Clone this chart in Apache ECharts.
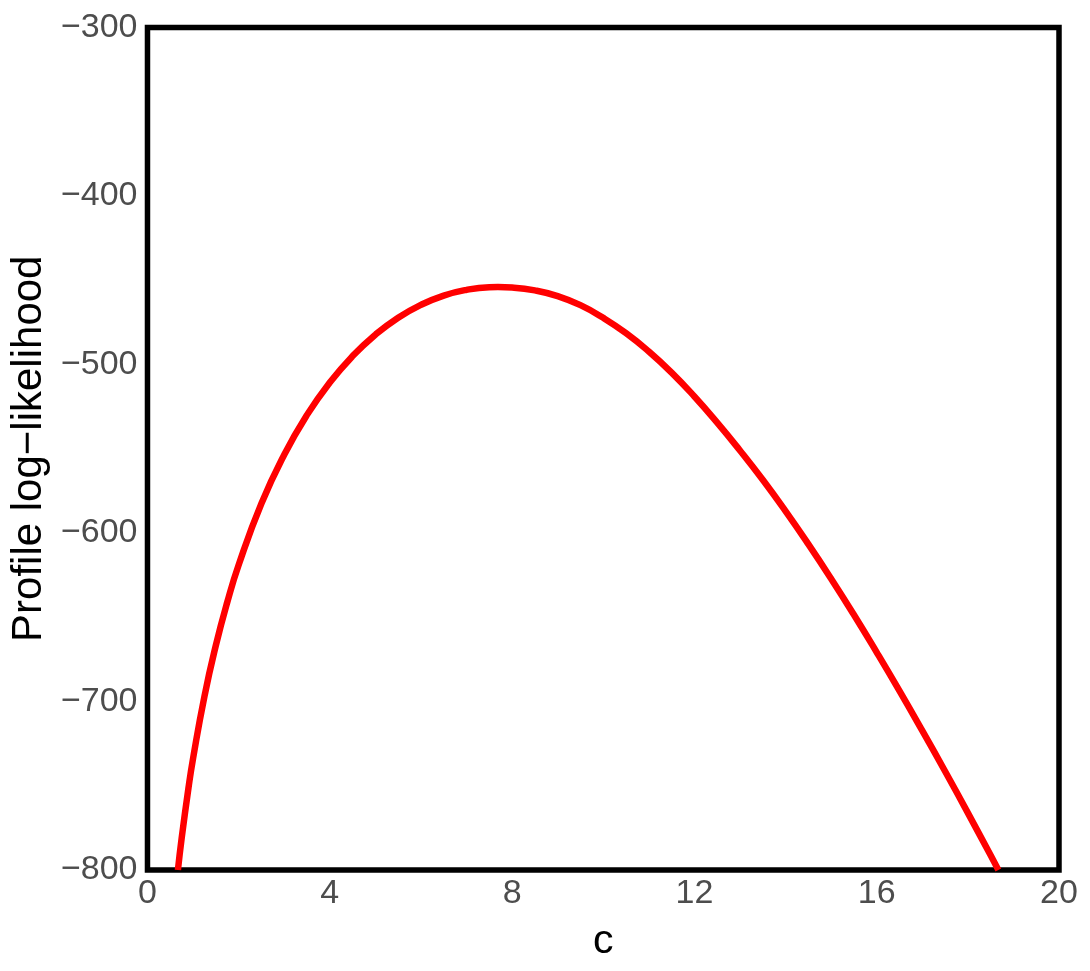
<!DOCTYPE html>
<html>
<head>
<meta charset="utf-8">
<script src="https://cdn.jsdelivr.net/npm/echarts@6/dist/echarts.min.js"></script>
<style>
html,body{margin:0;padding:0;background:#fff;}
#chart{width:1090px;height:971px;}
</style>
</head>
<body>
<div id="chart"></div>
<script>
// Values (profile log-likelihood vs c)
const cValues = [0.668, 0.75, 0.9, 1.0, 1.25, 1.5, 1.75, 2.0, 2.5, 3.0, 3.5, 4.0, 4.5, 5.0, 5.5, 6.0, 6.5, 7.0, 7.5, 7.69,
  8.0, 8.5, 9.0, 9.5, 10.0, 10.5, 11.0, 11.5, 12.0, 12.5, 13.0, 13.5, 14.0, 14.5, 15.0, 15.5, 16.0, 16.5, 17.0, 17.5, 18.0, 18.5, 18.67];
const logLik = [-800, -781.1, -751.2, -733.8, -696.9, -666.7, -641.1, -619.0, -582.5, -553.5, -529.9, -510.7, -495.0, -482.3, -472.2, -464.6, -459.1, -455.7, -454.1, -454.0,
  -454.3, -456.0, -459.4, -464.8, -472.3, -481.4, -492.3, -504.8, -519.0, -534.5, -551.0, -568.4, -587.0, -606.6, -627.1, -648.5, -670.8, -693.7, -717.3, -741.4, -766.1, -791.3, -800];
const xTicks = [0, 4, 8, 12, 16, 20];
const yTicks = [-800, -700, -600, -500, -400, -300];
const xTitle = 'c';
const yTitle = 'Profile log\u2212likelihood';

const points = cValues.map((c, i) => [c, logLik[i]]);
const fmt = v => (v < 0 ? '\u2212' + Math.abs(v) : String(v));
const FONT = '"Liberation Sans", Arial, Helvetica, sans-serif';

const chart = echarts.init(document.getElementById('chart'), null, {renderer: 'canvas'});
chart.setOption({
  animation: false,
  backgroundColor: '#ffffff',
  grid: {
    left: 145.5, right: 31, top: 27.5, bottom: 101,
    show: true, borderColor: '#000000', borderWidth: 5.5, backgroundColor: 'transparent'
  },
  xAxis: {
    type: 'value',
    min: xTicks[0], max: xTicks[xTicks.length - 1], interval: xTicks[1] - xTicks[0],
    name: xTitle, nameLocation: 'middle', nameGap: 51,
    nameTextStyle: {fontFamily: FONT, fontSize: 41, color: '#000000'},
    axisLine: {show: false}, axisTick: {show: false}, splitLine: {show: false},
    axisLabel: {fontFamily: FONT, fontSize: 34, color: '#4d4d4d', margin: 7, formatter: fmt, showMinLabel: true, showMaxLabel: true}
  },
  yAxis: {
    type: 'value',
    min: yTicks[0], max: yTicks[yTicks.length - 1], interval: yTicks[1] - yTicks[0],
    name: yTitle, nameLocation: 'middle', nameGap: 89,
    nameTextStyle: {fontFamily: FONT, fontSize: 42, color: '#000000'},
    axisLine: {show: false}, axisTick: {show: false}, splitLine: {show: false},
    axisLabel: {fontFamily: FONT, fontSize: 34, color: '#4d4d4d', margin: 10, formatter: fmt, showMinLabel: true, showMaxLabel: true}
  },
  series: [{
    type: 'line',
    data: points,
    smooth: true,
    showSymbol: false,
    clip: true,
    lineStyle: {color: '#ff0000', width: 6.5}
  }]
});
</script>
</body>
</html>
